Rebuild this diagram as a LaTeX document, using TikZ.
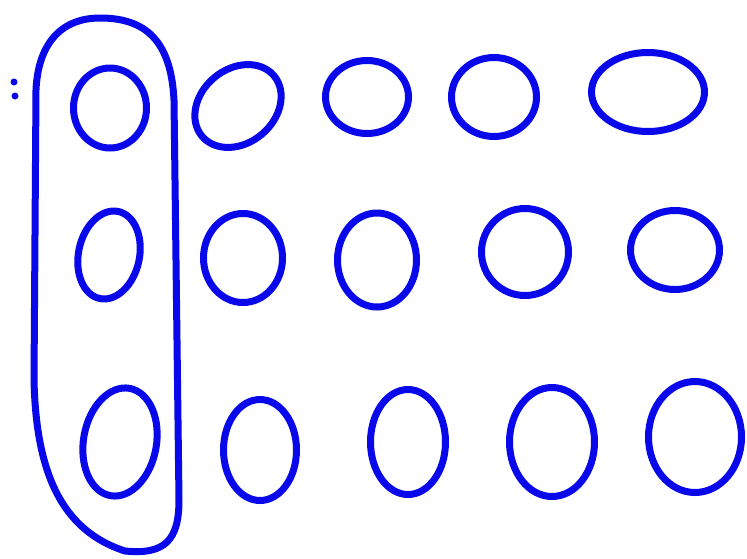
\documentclass[tikz,border=0pt]{standalone}
\usepackage{xcolor}
\usepackage{tikz}
\usetikzlibrary{shapes.geometric}
\definecolor{penblue}{RGB}{8,8,235}

\begin{document}
\begin{tikzpicture}[x=1pt, y=-1pt]
\tikzstyle{ring}=[draw=penblue, line width=7pt, ellipse, inner sep=0pt]
\tikzstyle{speck}=[fill=penblue, circle, inner sep=0pt, minimum size=7pt]
\useasboundingbox (0,0) rectangle (747,558);

\node[speck] (dotA) at (14,82) {};
\node[speck] (dotB) at (15,96) {};

\node[ring, minimum width=73pt, minimum height=80pt] (a1) at (110,108) {};
\node[ring, minimum width=94pt, minimum height=74pt, rotate=40] (a2) at (238,106) {};
\node[ring, minimum width=83pt, minimum height=73pt] (a3) at (367,97) {};
\node[ring, minimum width=85pt, minimum height=79pt] (a4) at (494,97) {};
\node[ring, minimum width=113pt, minimum height=79pt] (a5) at (648,92) {};

\node[ring, minimum width=61pt, minimum height=89pt, rotate=-12] (b1) at (109,255) {};
\node[ring, minimum width=79pt, minimum height=89pt] (b2) at (243,258) {};
\node[ring, minimum width=79pt, minimum height=94pt] (b3) at (377,260) {};
\node[ring, minimum width=87pt, minimum height=87pt] (b4) at (525,252) {};
\node[ring, minimum width=89pt, minimum height=79pt] (b5) at (675,250) {};

\node[ring, minimum width=73pt, minimum height=109pt, rotate=-10] (c1) at (120,442) {};
\node[ring, minimum width=73pt, minimum height=101pt] (c2) at (260,450) {};
\node[ring, minimum width=75pt, minimum height=105pt] (c3) at (408,442) {};
\node[ring, minimum width=85pt, minimum height=109pt] (c4) at (552,442) {};
\node[ring, minimum width=93pt, minimum height=111pt] (c5) at (695,437) {};

\draw[draw=penblue, line width=7pt, line join=round]
  (36,90) -- (34,380) .. controls (36,470) and (60,530) .. (125,551)
  .. controls (165,555) and (179,540) .. (179,500) -- (174,100)
  .. controls (171,40) and (145,18) .. (100,18)
  .. controls (60,18) and (38,45) .. (36,90) -- cycle;
\end{tikzpicture}
\end{document}
